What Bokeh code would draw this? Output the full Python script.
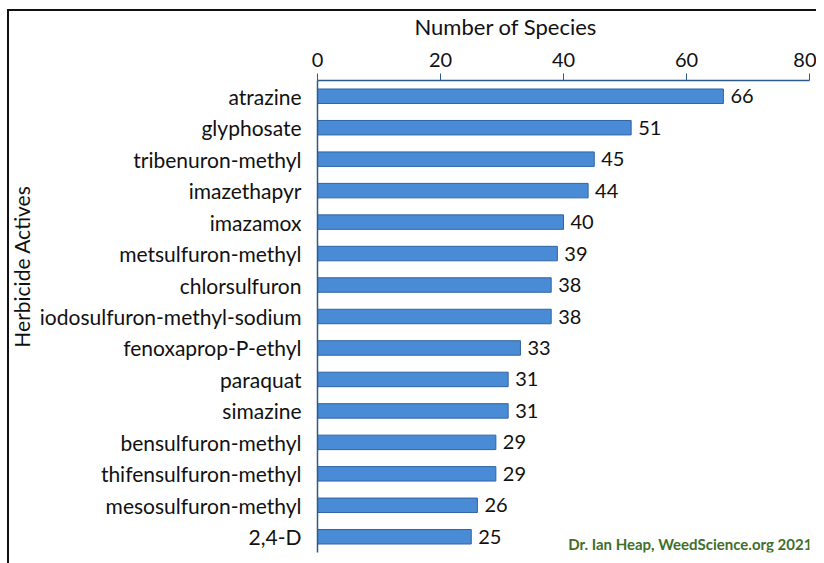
from bokeh.plotting import figure
from bokeh.models import FactorRange, Range1d, FixedTicker, ColumnDataSource, Label, Title
from bokeh.core.properties import value
from bokeh.embed import file_html
from bokeh.resources import INLINE

herbicides = ["atrazine", "glyphosate", "tribenuron-methyl", "imazethapyr", "imazamox",
              "metsulfuron-methyl", "chlorsulfuron", "iodosulfuron-methyl-sodium",
              "fenoxaprop-P-ethyl", "paraquat", "simazine", "bensulfuron-methyl",
              "thifensulfuron-methyl", "mesosulfuron-methyl", "2,4-D"]
species = [66, 51, 45, 44, 40, 39, 38, 38, 33, 31, 31, 29, 29, 26, 25]
x_ticks = [0, 20, 40, 60, 80]
credit = "Dr. Ian Heap, WeedScience.org 2021"

FONT = "Lato"

src = ColumnDataSource(dict(h=herbicides, n=species, lbl=[str(v) for v in species]))

p = figure(width=816, height=563, output_backend="svg", toolbar_location=None,
           y_range=FactorRange(*reversed(herbicides)), x_range=Range1d(0, 80),
           x_axis_location="above", min_border_left=317, min_border_right=7,
           min_border_top=80, min_border_bottom=11)
p.border_fill_color = None
p.styles = {"background": "linear-gradient(#111,#111) 7px 9px / 100% 2px no-repeat, "
                          "linear-gradient(#111,#111) 7px 9px / 2px 100% no-repeat, white"}
p.outline_line_color = None
p.grid.visible = False
p.background_fill_color = "white"

p.hbar(y="h", right="n", left=0, height=0.46, source=src,
       fill_color="#4a8bd6", line_color="#2f64a3", line_width=1)

p.text(x="n", y="h", text="lbl", source=src, x_offset=7,
       text_baseline="middle", text_align="left", text_font=value(FONT),
       text_font_size="20px", text_color="#111111")

p.add_layout(Label(x=80, y=9, y_units="screen", text=credit, x_offset=3,
                   text_baseline="middle", text_align="right",
                   text_font=FONT, text_font_size="15px", text_font_style="bold",
                   text_color="#3f6f2a"))

p.add_layout(Title(text="Number of Species", align="left", offset=97, standoff=19,
                   text_font=FONT, text_font_size="22px", text_font_style="normal",
                   text_color="#111111"), "above")
p.add_layout(Title(text="Herbicide Actives", align="right", offset=105, standoff=5,
                   text_font=FONT, text_font_size="21px", text_font_style="normal",
                   text_color="#111111"), "left")

xa = p.xaxis[0]
xa.ticker = FixedTicker(ticks=x_ticks)
xa.major_label_text_font = FONT
xa.major_label_text_font_size = "20px"
xa.major_label_text_color = "#111111"
xa.major_label_standoff = 7
xa.axis_line_color = "#2c5a8c"
xa.axis_line_width = 1.5
xa.major_tick_line_color = "#2c5a8c"
xa.major_tick_out = 7
xa.major_tick_in = 0
xa.minor_tick_line_color = None

ya = p.yaxis[0]
ya.major_label_text_font = FONT
ya.major_label_text_font_size = "21px"
ya.major_label_text_color = "#111111"
ya.major_label_standoff = 10
ya.axis_line_color = "#2c5a8c"
ya.axis_line_width = 1.5
ya.major_tick_line_color = None
ya.minor_tick_line_color = None

open("out.html", "w").write(file_html(p, INLINE))
